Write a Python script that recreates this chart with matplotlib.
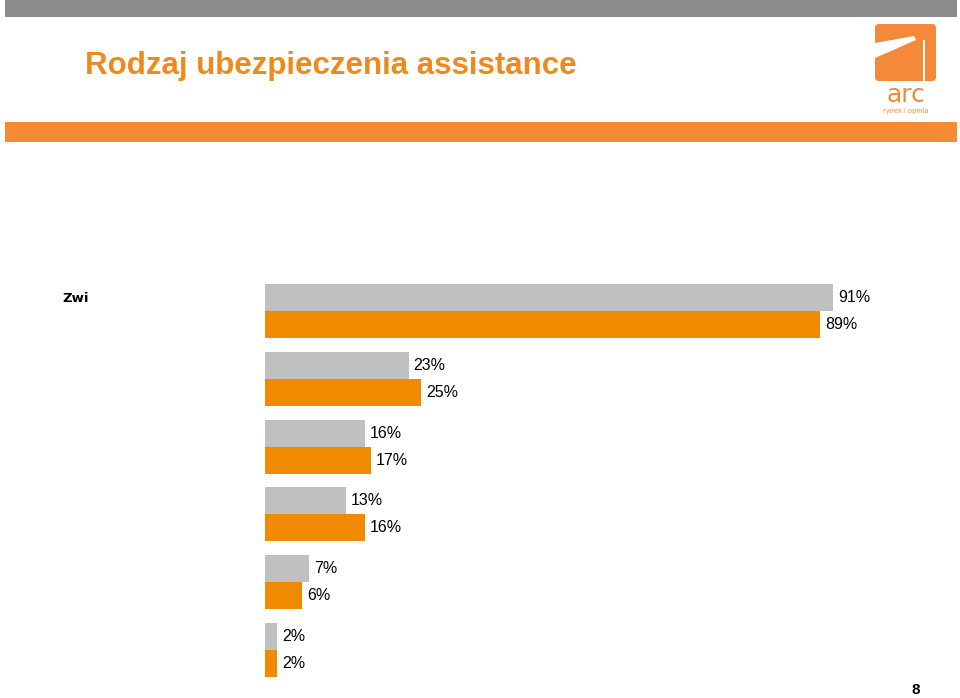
import numpy as np
import matplotlib.pyplot as plt
from matplotlib.patches import Rectangle, FancyBboxPatch, Polygon

# data
categories = ['Zwi', '', '', '', '', '']
grey_vals = [91, 23, 16, 13, 7, 2]
orange_vals = [89, 25, 17, 16, 6, 2]
grey_labels = ['91%', '23%', '16%', '13%', '7%', '2%']
orange_labels = ['89%', '25%', '17%', '16%', '6%', '2%']

W, H = 960, 698
fig = plt.figure(figsize=(W / 100, H / 100), dpi=100)
fig.patch.set_facecolor('white')

# page decoration in pixel coords
bg = fig.add_axes([0, 0, 1, 1])
bg.set_xlim(0, W)
bg.set_ylim(H, 0)
bg.axis('off')
bg.add_patch(Rectangle((5, 0), 952, 17, color='#8a8b8d', lw=0))
bg.add_patch(Rectangle((5, 122), 952, 20, color='#f58b32', lw=0))
bg.text(85, 66, 'Rodzaj ubezpieczenia assistance', color='#ee8a1c', fontsize=22.5,
        fontweight='bold', va='center', ha='left',
        family=['Liberation Sans Narrow', 'Liberation Sans', 'DejaVu Sans'])

# logo
bg.add_patch(FancyBboxPatch((875, 24), 61, 57, boxstyle='round,pad=0,rounding_size=4',
                            color='#f5893a', lw=0))
bg.add_patch(Polygon([(875, 43), (914, 36), (916, 40), (875, 58)], closed=True,
                     color='white', lw=0))
bg.add_patch(Rectangle((923, 40), 1.8, 41, color='white', lw=0))
bg.text(906, 95, 'arc', color='#f5893a', fontsize=18, ha='center', va='center',
        family=['DejaVu Sans'])
bg.text(906, 111.5, 'rynek i opinia', color='#f5893a', fontsize=4.8, ha='center',
        va='center')

bg.text(62, 299, categories[0], fontsize=9.5, fontweight='bold', va='center', ha='left')
bg.text(916, 690, '8', fontsize=11, fontweight='bold', va='center', ha='center',
        family=['Liberation Sans', 'DejaVu Sans'])

# bar chart
x0 = 265
px_per_unit = 6.24
top, bottom = 284, 677
ax = fig.add_axes([x0 / W, (H - bottom) / H, 100 * px_per_unit / W, (bottom - top) / H])
ax.set_xlim(0, 100)
y = np.arange(len(grey_vals))
h = 0.397
ax.barh(y - 0.2, grey_vals, height=h, color='#c0c0c0', lw=0)
ax.barh(y + 0.2, orange_vals, height=h, color='#f08a00', lw=0)
ax.set_ylim(len(grey_vals) - 1 + 0.4, -0.4)
ax.axis('off')
for i in range(len(grey_vals)):
    ax.text(grey_vals[i] + 0.8, y[i] - 0.2, grey_labels[i], va='center', ha='left',
            fontsize=11.5, family=['Liberation Sans', 'DejaVu Sans'])
    ax.text(orange_vals[i] + 0.8, y[i] + 0.2, orange_labels[i], va='center', ha='left',
            fontsize=11.5, family=['Liberation Sans', 'DejaVu Sans'])

fig.savefig('out.png', dpi=100)
